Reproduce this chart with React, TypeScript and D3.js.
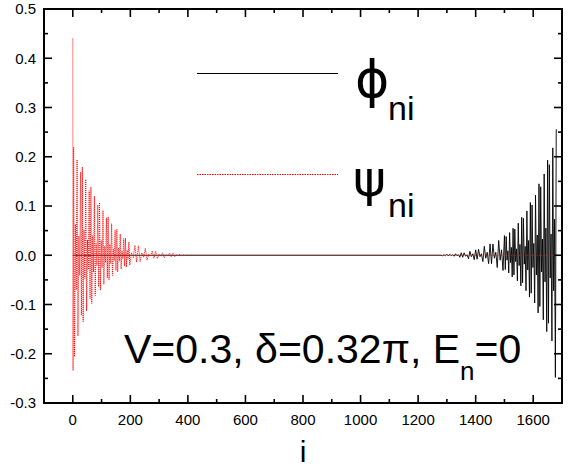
import React from 'react';
import * as d3 from 'd3';

const W = 579;
const H = 469;

const xMajorTicks = [0, 200, 400, 600, 800, 1000, 1200, 1400, 1600];
const xMinorTicks = [100, 300, 500, 700, 900, 1100, 1300, 1500];
const yMajorTicks = [-0.3, -0.2, -0.1, 0.0, 0.1, 0.2, 0.3, 0.4, 0.5];
const yMinorTicks = [-0.25, -0.15, -0.05, 0.05, 0.15, 0.25, 0.35, 0.45];

// phi_ni (black, solid): site index i and amplitude
const phiIndex = [
  0, 1280, 1285, 1290, 1295, 1300, 1305, 1310, 1315, 1320, 1325, 1330, 1335, 1340, 1345, 1350, 1355, 1360, 1365, 1370,
  1375, 1380, 1385, 1390, 1395, 1400, 1405, 1410, 1415, 1420, 1425, 1430, 1435, 1440, 1445, 1450, 1455, 1460, 1465,
  1470, 1475, 1480, 1485, 1490, 1495, 1500, 1503, 1506, 1509, 1512, 1515, 1518, 1521, 1524, 1527, 1530, 1533, 1536,
  1539, 1542, 1545, 1548, 1551, 1554, 1557, 1560, 1563, 1566, 1569, 1572, 1575, 1578, 1581, 1584, 1587, 1590, 1593,
  1596, 1599, 1602, 1605, 1608, 1611, 1614, 1617, 1620, 1623, 1626, 1629, 1632, 1635, 1638, 1641, 1644, 1647, 1650,
  1653, 1656, 1659, 1662, 1665, 1668, 1671, 1674, 1677, 1680,
];
const phiValues = [
  0, 0, -0.001, 0.001, -0.001, 0.002, -0.001, 0.002, -0.001, 0.001, -0.002, 0.003, -0.001, 0.001, -0.004, 0.005, -0.004,
  0.005, -0.002, 0.001, -0.007, 0.008, -0.003, 0.003, -0.009, 0.011, -0.008, 0.012, -0.003, 0.003, -0.013, 0.018,
  -0.006, 0.006, -0.017, 0.023, -0.017, 0.023, -0.006, 0.006, -0.025, 0.03, -0.01, 0.011, -0.031, 0.04, -0.029, 0.038,
  -0.01, 0.009, -0.036, 0.046, -0.015, 0.016, -0.044, 0.055, -0.04, 0.053, -0.013, 0.013, -0.052, 0.065, -0.021, 0.022,
  -0.062, 0.077, -0.056, 0.075, -0.018, 0.018, -0.072, 0.09, -0.03, 0.03, -0.085, 0.107, -0.077, 0.102, -0.025, 0.024,
  -0.097, 0.122, -0.04, 0.041, -0.117, 0.145, -0.104, 0.139, -0.034, 0.033, -0.131, 0.165, -0.054, 0.055, -0.155, 0.193,
  -0.138, 0.184, -0.046, 0.043, -0.174, 0.218, -0.072, 0.073, -0.248, 0.256,
];

// psi_ni (red, dotted)
const psiIndex = [
  0, 1, 3, 6, 9, 12, 15, 18, 21, 24, 27, 30, 33, 36, 39, 42, 45, 48, 51, 54, 57, 60, 63, 66, 69, 72, 75, 78, 81, 84, 87,
  90, 93, 96, 99, 102, 105, 108, 111, 114, 117, 120, 123, 126, 129, 132, 135, 138, 141, 144, 147, 150, 153, 156, 159,
  162, 165, 168, 171, 174, 177, 180, 183, 186, 189, 192, 195, 198, 204, 210, 216, 222, 228, 234, 240, 246, 252, 258,
  264, 270, 276, 282, 288, 294, 300, 306, 312, 318, 324, 330, 336, 342, 348, 354, 360, 366, 372, 378, 384, 390, 396,
  400, 1680,
];
const psiValues = [
  0.44, -0.234, 0.22, -0.206, 0.063, -0.07, 0.194, -0.164, 0.039, -0.041, 0.169, -0.122, 0.179, -0.135, 0.051, -0.047,
  0.154, -0.113, 0.031, -0.029, 0.131, -0.088, 0.139, -0.098, 0.04, -0.034, 0.12, -0.082, 0.024, -0.021, 0.102, -0.064,
  0.107, -0.071, 0.03, -0.025, 0.091, -0.059, 0.018, -0.015, 0.076, -0.046, 0.078, -0.05, 0.022, -0.017, 0.064, -0.041,
  0.012, -0.011, 0.051, -0.031, 0.053, -0.034, 0.015, -0.012, 0.043, -0.028, 0.008, -0.007, 0.034, -0.022, 0.035,
  -0.024, 0.01, -0.008, 0.027, -0.02, 0.005, -0.005, 0.02, -0.014, 0.019, -0.013, 0.005, -0.004, 0.014, -0.01, 0.002,
  -0.002, 0.009, -0.006, 0.008, -0.007, 0.002, -0.002, 0.005, -0.005, 0.001, -0.001, 0.004, -0.003, 0.004, -0.003,
  0.001, -0.001, 0.002, -0.002, 0.001, -0.001, 0.001, 0, 0,
];

const legendLabels = ['ϕ', 'ψ'];
const legendSub = 'ni';
const xLabel = 'i';

const FONT = "'Liberation Sans', Arial, Helvetica, sans-serif";

export default function App() {
  const left = 44, right = 562, top = 9, bottom = 403;
  const x = d3.scaleLinear().domain([-100, 1700]).range([left, right]);
  const y = d3.scaleLinear().domain([-0.3, 0.5]).range([bottom, top]);

  const line = d3
    .line<[number, number]>()
    .x((d) => x(d[0]))
    .y((d) => y(d[1]));

  const phiData: [number, number][] = phiIndex.map((i, k) => [i, phiValues[k]]);
  const psiData: [number, number][] = psiIndex.map((i, k) => [i, psiValues[k]]);

  const tickW = 1.6;
  const fmt = (v: number) => v.toFixed(1).replace('−', '-');

  return (
    <svg
      width={W}
      height={H}
      style={{ position: 'fixed', left: 0, top: 0, background: '#fff' }}
      fontFamily={FONT}
    >
      <rect x={0} y={0} width={W} height={H} fill="#fff" />
      <defs>
        <clipPath id="plotclip">
          <rect x={left} y={top} width={right - left} height={bottom - top} />
        </clipPath>
      </defs>

      <g clipPath="url(#plotclip)">
        <path d={line(phiData) || ''} fill="none" stroke="#000" strokeWidth={0.9} />
        <path d={line(psiData) || ''} fill="none" stroke="#ff0000" strokeWidth={1} strokeDasharray="1,1" />
      </g>

      {/* ticks */}
      <g stroke="#000" strokeWidth={tickW}>
        {xMajorTicks.map((t) => (
          <g key={'xM' + t}>
            <line x1={x(t)} x2={x(t)} y1={bottom} y2={bottom - 8} />
            <line x1={x(t)} x2={x(t)} y1={top} y2={top + 8} />
          </g>
        ))}
        {xMinorTicks.map((t) => (
          <g key={'xm' + t}>
            <line x1={x(t)} x2={x(t)} y1={bottom} y2={bottom - 4} />
            <line x1={x(t)} x2={x(t)} y1={top} y2={top + 4} />
          </g>
        ))}
        {yMajorTicks.map((t) => (
          <g key={'yM' + t}>
            <line x1={left} x2={left + 8} y1={y(t)} y2={y(t)} />
            <line x1={right} x2={right - 8} y1={y(t)} y2={y(t)} />
          </g>
        ))}
        {yMinorTicks.map((t) => (
          <g key={'ym' + t}>
            <line x1={left} x2={left + 4} y1={y(t)} y2={y(t)} />
            <line x1={right} x2={right - 4} y1={y(t)} y2={y(t)} />
          </g>
        ))}
      </g>

      <rect x={left} y={top} width={right - left} height={bottom - top} fill="none" stroke="#000" strokeWidth={2} />

      {/* tick labels */}
      <g fontSize={15} fill="#000">
        {xMajorTicks.map((t) => (
          <text key={'xl' + t} x={x(t)} y={425} textAnchor="middle">
            {t}
          </text>
        ))}
        {yMajorTicks.map((t) => (
          <text key={'yl' + t} x={36} y={y(t)} dy="0.36em" textAnchor="end">
            {fmt(t)}
          </text>
        ))}
      </g>

      <text x={x(800)} y={462} fontSize={30} textAnchor="middle" fill="#000">
        {xLabel}
      </text>

      {/* legend */}
      <line x1={197} x2={338} y1={73.5} y2={73.5} stroke="#000" strokeWidth={1} />
      <line x1={197} x2={338} y1={174.5} y2={174.5} stroke="#ff0000" strokeWidth={1.2} strokeDasharray="1.5,1" />
      <text x={355} y={97} fontSize={52} fill="#000" fontFamily="'DejaVu Sans', sans-serif">
        {legendLabels[0]}
      </text>
      <text x={388} y={120} fontSize={34} fill="#000">
        {legendSub}
      </text>
      <text x={353} y={196} fontSize={50} fill="#000" fontFamily="'DejaVu Sans', sans-serif">
        {legendLabels[1]}
      </text>
      <text x={388} y={217} fontSize={34} fill="#000">
        {legendSub}
      </text>

      {/* annotation */}
      <text x={124} y={363} fontSize={41} fill="#000">
        V=0.3, δ=0.32π, E
        <tspan fontSize={26} dy={17}>n</tspan>
        <tspan dy={-17}>=0</tspan>
      </text>
    </svg>
  );
}
